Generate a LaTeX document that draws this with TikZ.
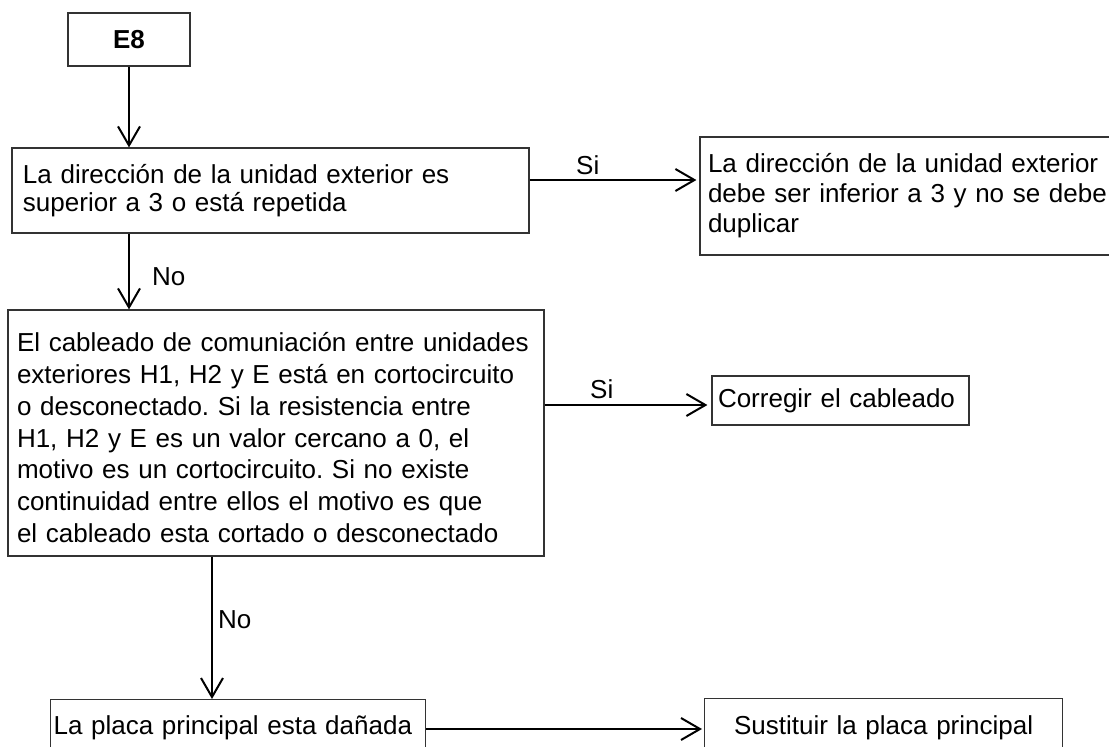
\documentclass[tikz,border=0pt]{standalone}
\usepackage{fontspec}
\setmainfont{Liberation Sans}
\usetikzlibrary{arrows.meta}
\frenchspacing
\begin{document}
\begin{tikzpicture}[x=1pt,y=-1pt,
  box/.style={draw=black!80, line width=1.2pt, rectangle, inner ysep=0pt,
    font=\fontsize{26}{28}\selectfont},
  conn/.style={line width=2pt, -{Straight Barb[length=19pt,width=22pt]}},
  lbl/.style={font=\fontsize{26}{28}\selectfont, inner sep=0pt, anchor=base west}]
\useasboundingbox (0,0) rectangle (1109,747);
\clip (0,0) rectangle (1109,747);
\node[box, minimum width=122pt, minimum height=53pt,
  font=\fontsize{26}{28}\selectfont\bfseries] (e8) at (129,39.5) {E8};
\node[box, minimum width=517pt, minimum height=85pt, text width=495pt,
  inner xsep=11pt, align=left] (b2) at (270.5,190.5)
  {La dirección de la unidad exterior es\\superior a 3 o está repetida};
\node[box, minimum width=420pt, minimum height=118pt, text width=404pt,
  inner xsep=8pt, align=left, font=\fontsize{26}{30}\selectfont] (r1) at (910,196)
  {La dirección de la unidad exterior\\debe ser inferior a 3 y no se debe\\duplicar};
\node[box, minimum width=536pt, minimum height=246pt, text width=518pt,
  inner xsep=9pt, align=left, font=\fontsize{26}{31.8}\selectfont] (b3) at (276,433)
  {\rule{0pt}{28.5pt}El cableado de comuniación entre unidades\\
   exteriores H1, H2 y E está en cortocircuito\\
   o desconectado. Si la resistencia entre\\
   H1, H2 y E es un valor cercano a 0, el\\
   motivo es un cortocircuito. Si no existe\\
   continuidad entre ellos el motivo es que\\
   el cableado esta cortado o desconectado};
\node[box, minimum width=257pt, minimum height=49pt, text width=245pt,
  inner xsep=6pt, align=left] (corr) at (840.5,400.5) {Corregir el cableado};
\node[box, anchor=north west, minimum width=375pt, minimum height=56pt,
  text width=369pt, inner xsep=3pt, align=left] (b4) at (50,699)
  {La placa principal esta dañada};
\node[box, anchor=north west, minimum width=358pt, minimum height=58pt,
  text width=358pt, inner xsep=0pt, align=center] (b5) at (704,698)
  {Sustituir la placa principal};
\coordinate (y1) at (0,180);
\coordinate (y2) at (0,405);
\coordinate (y3) at (0,729);
\coordinate (x2) at (212,0);
\draw[conn] (e8.south) -- (e8.south |- b2.north);
\draw[conn] (e8.south |- b2.south) -- (e8.south |- b3.north);
\draw[conn, shorten >=3pt] (b2.east |- y1) -- (r1.west |- y1);
\draw[conn, shorten >=4pt] (b3.east |- y2) -- (corr.west |- y2);
\draw[conn] (x2 |- b3.south) -- (x2 |- b4.north);
\draw[conn, shorten >=2pt] (b4.east |- y3) -- (b5.west |- y3);
\node[lbl] (no1) at (152,285) {No};
\node[lbl] (si1) at (576,174) {Si};
\node[lbl] (si2) at (590,398) {Si};
\node[lbl] (no2) at (218,628) {No};
\end{tikzpicture}
\end{document}
